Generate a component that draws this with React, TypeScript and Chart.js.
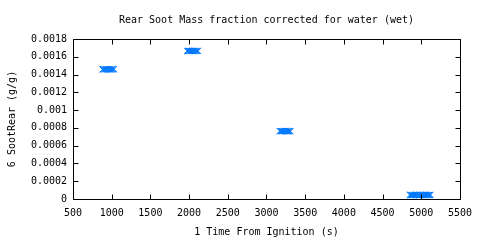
import React, { useEffect, useRef } from 'react';
import { Chart, registerables } from 'chart.js';

Chart.register(...registerables);

const TITLE = 'Rear Soot Mass fraction corrected for water (wet)';
const X_LABEL = '1 Time From Ignition (s)';
const Y_LABEL = '6 SootRear (g/g)';

const timeA = [880, 890, 900, 910, 920, 930, 940, 950, 960, 970, 980, 990, 1000, 1010, 1020, 1030];
const sootA = [0.001458, 0.001461, 0.001457, 0.00146, 0.001459, 0.001462, 0.001456, 0.001459, 0.001461, 0.001458, 0.00146, 0.001457, 0.001459, 0.001462, 0.001458, 0.00146];

const timeB = [1975, 1985, 1995, 2005, 2015, 2025, 2035, 2045, 2055, 2065, 2075, 2085, 2095, 2105, 2115];
const sootB = [0.001666, 0.001664, 0.001668, 0.001666, 0.001663, 0.001667, 0.001665, 0.001668, 0.001664, 0.001666, 0.001667, 0.001663, 0.001666, 0.001665, 0.001667];

const timeC = [3170, 3180, 3190, 3200, 3210, 3220, 3230, 3240, 3250, 3260, 3270, 3280, 3290, 3300, 3310];
const sootC = [0.000764, 0.000762, 0.000765, 0.000763, 0.000761, 0.000764, 0.000766, 0.000762, 0.000763, 0.000765, 0.000761, 0.000764, 0.000763, 0.000765, 0.000762];

const timeD = [4850, 4860, 4870, 4880, 4890, 4900, 4910, 4920, 4930, 4940, 4950, 4960, 4970, 4980, 4990, 5000, 5010, 5020, 5030, 5040, 5050, 5060, 5070, 5080, 5090, 5100, 5110, 5120];
const sootD = [0.000046, 0.000044, 0.000047, 0.000045, 0.000043, 0.000046, 0.000045, 0.000044, 0.000047, 0.000045, 0.000046, 0.000043, 0.000045, 0.000046, 0.000044, 0.000047, 0.000045, 0.000046, 0.000044, 0.000045, 0.000047, 0.000043, 0.000046, 0.000045, 0.000044, 0.000046, 0.000045, 0.000047];

const X_MIN = 500;
const X_MAX = 5500;
const X_STEP = 500;
const Y_MIN = 0;
const Y_MAX = 0.0018;
const Y_STEP = 0.0002;

const FONT = { family: '"DejaVu Sans Mono", monospace', size: 10 };

const framePlugin = {
  id: 'gnuFrame',
  afterDraw(chart: any) {
    const { ctx, chartArea } = chart;
    const { left, right, top, bottom } = chartArea;
    const xs = chart.scales.x;
    const ys = chart.scales.y;
    const L = Math.round(left) + 0.5;
    const R = Math.round(right) + 0.5;
    const T = Math.round(top) + 0.5;
    const B = Math.round(bottom) + 0.5;
    const tl = 5;
    ctx.save();
    ctx.strokeStyle = '#000';
    ctx.lineWidth = 1;
    ctx.beginPath();
    ctx.rect(L, T, R - L, B - T);
    xs.ticks.forEach((t: any) => {
      const px = Math.round(xs.getPixelForValue(t.value)) + 0.5;
      ctx.moveTo(px, B);
      ctx.lineTo(px, B - tl);
      ctx.moveTo(px, T);
      ctx.lineTo(px, T + tl);
    });
    ys.ticks.forEach((t: any) => {
      const py = Math.round(ys.getPixelForValue(t.value)) + 0.5;
      ctx.moveTo(L, py);
      ctx.lineTo(L + tl, py);
      ctx.moveTo(R, py);
      ctx.lineTo(R - tl, py);
    });
    ctx.stroke();
    ctx.restore();
  },
};

function toPoints(xs: number[], ys: number[]) {
  return xs.map((x, i) => ({ x, y: ys[i] }));
}

export default function App() {
  const ref = useRef<HTMLCanvasElement | null>(null);
  useEffect(() => {
    if (!ref.current) return;
    const data = [
      ...toPoints(timeA, sootA),
      ...toPoints(timeB, sootB),
      ...toPoints(timeC, sootC),
      ...toPoints(timeD, sootD),
    ];
    const chart = new Chart(ref.current, {
      type: 'scatter',
      data: {
        datasets: [
          {
            label: Y_LABEL,
            data,
            pointStyle: 'crossRot',
            pointRadius: 4.3,
            pointBorderWidth: 1,
            borderColor: '#0078ff',
            backgroundColor: '#0078ff',
            showLine: false,
          },
        ],
      },
      options: {
        responsive: false,
        animation: false,
        layout: { padding: { left: 0, right: 19, top: 0, bottom: 0 } },
        plugins: {
          legend: { display: false },
          tooltip: { enabled: false },
          title: {
            display: true,
            fullSize: false,
            text: TITLE,
            color: '#000',
            font: { ...FONT, weight: 'normal' },
            padding: { top: 14, bottom: 13 },
          },
        },
        scales: {
          x: {
            type: 'linear',
            min: X_MIN,
            max: X_MAX,
            grid: { display: false, drawTicks: false },
            border: { display: false },
            ticks: {
              stepSize: X_STEP,
              color: '#000',
              font: FONT,
              padding: 8,
              maxRotation: 0,
              autoSkip: false,
              callback: (v: any) => String(v),
            },
            title: {
              display: true,
              text: X_LABEL,
              color: '#000',
              font: FONT,
              padding: { top: 0, bottom: 2 },
            },
            afterFit: (s: any) => {
              s.height = 41;
            },
          },
          y: {
            type: 'linear',
            min: Y_MIN,
            max: Y_MAX,
            grid: { display: false, drawTicks: false },
            border: { display: false },
            ticks: {
              stepSize: Y_STEP,
              color: '#000',
              font: FONT,
              padding: 6,
              autoSkip: false,
              callback: (v: any) => String(Number(Number(v).toFixed(5))),
            },
            title: {
              display: true,
              text: Y_LABEL,
              color: '#000',
              font: FONT,
              padding: { top: 6, bottom: 0 },
            },
            afterFit: (s: any) => {
              s.width = 73;
            },
          },
        },
      },
      plugins: [framePlugin],
    });
    return () => chart.destroy();
  }, []);
  return (
    <div style={{ position: 'absolute', left: 0, top: 0, width: 480, height: 240, background: '#fff' }}>
      <canvas ref={ref} width={480} height={240} style={{ display: 'block' }} />
    </div>
  );
}
